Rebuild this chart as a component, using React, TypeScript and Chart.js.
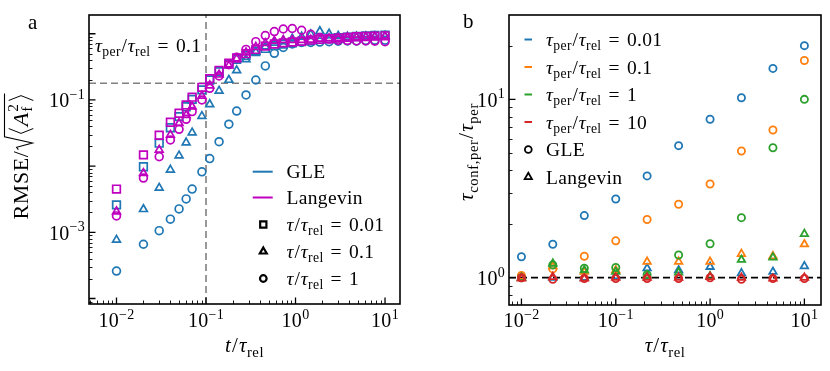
import React, { useEffect, useRef } from "react";
import { Chart, registerables } from "chart.js";
Chart.register(...registerables);

// ---------------- Panel a data ----------------
const tA = [0.01, 0.02, 0.03, 0.04, 0.05, 0.06, 0.07, 0.09, 0.11, 0.14, 0.18, 0.22, 0.28, 0.36, 0.46, 0.58, 0.73, 0.92, 1.17, 1.48, 1.87, 2.37, 3.0, 3.8, 4.8, 6.1, 7.7, 10.0];
const gleTau001 = [2.6e-3, 9.8e-3, 0.0222, 0.038, 0.056, 0.079, 0.102, 0.142, 0.2, 0.267, 0.35, 0.41, 0.47, 0.54, 0.6, 0.66, 0.7, 0.73, 0.76, 0.79, 0.82, 0.85, 0.87, 0.89, 0.91, 0.93, 0.94, 0.95];
const gleTau01 = [7.7e-4, 2.23e-3, 4.7e-3, 8.8e-3, 0.0144, 0.0227, 0.032, 0.057, 0.086, 0.137, 0.2, 0.28, 0.41, 0.53, 0.64, 0.73, 0.79, 0.84, 0.9, 0.98, 1.09, 1.0, 0.93, 0.9, 0.9, 0.91, 0.92, 0.93];
const gleTau1 = [2.6e-4, 6.6e-4, 1.06e-3, 1.58e-3, 2.26e-3, 3.2e-3, 4.5e-3, 8.2e-3, 0.013, 0.0234, 0.043, 0.068, 0.119, 0.2, 0.327, 0.507, 0.62, 0.7, 0.74, 0.74, 0.75, 0.76, 0.77, 0.78, 0.78, 0.79, 0.8, 0.8];
const lanTau001 = [4.5e-3, 0.0148, 0.0293, 0.046, 0.063, 0.084, 0.11, 0.155, 0.21, 0.28, 0.36, 0.43, 0.5, 0.58, 0.65, 0.7, 0.73, 0.75, 0.77, 0.8, 0.82, 0.84, 0.86, 0.88, 0.9, 0.91, 0.92, 0.93];
const lanTau01 = [2.06e-3, 7.8e-3, 0.0176, 0.0296, 0.0445, 0.059, 0.079, 0.115, 0.165, 0.24, 0.33, 0.42, 0.52, 0.63, 0.72, 0.78, 0.8, 0.8, 0.8, 0.81, 0.83, 0.85, 0.86, 0.87, 0.88, 0.89, 0.9, 0.91];
const lanTau1 = [1.77e-3, 6.6e-3, 0.0139, 0.0249, 0.036, 0.051, 0.0666, 0.1, 0.15, 0.23, 0.34, 0.44, 0.58, 0.76, 0.94, 1.08, 1.18, 1.2, 1.13, 0.98, 0.88, 0.83, 0.8, 0.79, 0.78, 0.78, 0.77, 0.76];
const tauRatiosA = ["0.01", "0.1", "1"];
const refTimeA = 0.1;
const refRmseA = 0.179;
const xTickExpA = [-2, -1, 0, 1];
const yTickExpA = [-1, -3];

// ---------------- Panel b data ----------------
const tauB = [0.01, 0.0215, 0.0464, 0.1, 0.215, 0.464, 1, 2.15, 4.64, 10];
const tauPerLabels = ["0.01", "0.1", "1", "10"];
const gleB001 = [1.31, 1.54, 2.23, 2.76, 3.72, 5.5, 7.73, 10.2, 14.9, 20.0];
const gleB01 = [1.03, 1.12, 1.32, 1.61, 2.12, 2.58, 3.35, 5.13, 6.73, 16.5];
const gleB1 = [1.0, 1.18, 1.13, 1.14, 1.04, 1.34, 1.55, 2.17, 5.35, 10.0];
const gleB10 = [1.0, 0.98, 0.99, 0.99, 0.99, 0.99, 1.0, 0.98, 0.99, 0.99];
const lanB001 = [1.0, 1.0, 1.0, 1.02, 1.13, 1.1, 1.15, 1.06, 1.08, 1.16];
const lanB01 = [1.0, 1.16, 1.08, 1.1, 1.23, 1.23, 1.23, 1.36, 1.32, 1.54];
const lanB1 = [1.0, 1.2, 1.1, 1.08, 1.03, 1.07, 1.02, 1.26, 1.3, 1.76];
const lanB10 = [0.99, 1.01, 0.99, 1.0, 1.0, 1.0, 1.01, 1.0, 0.99, 1.0];
const refRatioB = 1;
const xTickExpB = [-2, -1, 0, 1];
const yTickExpB = [0, 1];

// ---------------- styling ----------------
const BLUE = "#1f77b4";
const ORANGE = "#ff7f0e";
const GREEN = "#2ca02c";
const RED = "#d62728";
const MAG = "#bf00bf";
const FAMILY = '"Liberation Serif", "DejaVu Serif", serif';
const FS_TICK = 20;
const FS_LAB = 21;
const FS_LEG = 19.5;
const LS = 0.35;

const LIM_A = { xMin: 0.00493, xMax: 14.7, yMin: 8.26e-5, yMax: 1.92 };
const LIM_B = { xMin: 0.00738, xMax: 15.0, yMin: 0.703, yMax: 29.7 };

type Seg = { t: string; it?: boolean; sub?: boolean; sup?: boolean; pl?: number; pr?: number };

function segFont(s: Seg, base: number) {
  const size = s.sub || s.sup ? base * 0.7 : base;
  return `${s.it ? "italic " : ""}${size}px ${FAMILY}`;
}
function setLS(ctx: CanvasRenderingContext2D, v: number) {
  try {
    (ctx as any).letterSpacing = v + "px";
  } catch (e) {}
}
function segW(ctx: CanvasRenderingContext2D, s: Seg, base: number) {
  ctx.font = segFont(s, base);
  return ctx.measureText(s.t).width + ((s.pl || 0) + (s.pr || 0)) * base;
}
function richWidth(ctx: CanvasRenderingContext2D, segs: Seg[], base: number) {
  let w = 0;
  for (const s of segs) w += segW(ctx, s, base);
  return w;
}
function drawRich(ctx: CanvasRenderingContext2D, segs: Seg[], x: number, y: number, base: number, align: "left" | "center" | "right" = "left", ls = LS) {
  setLS(ctx, ls);
  const w = richWidth(ctx, segs, base);
  let cx = align === "center" ? x - w / 2 : align === "right" ? x - w : x;
  ctx.textAlign = "left";
  ctx.textBaseline = "alphabetic";
  ctx.fillStyle = "#000";
  for (const s of segs) {
    ctx.font = segFont(s, base);
    const dy = s.sub ? base * 0.22 : s.sup ? -base * 0.42 : 0;
    cx += (s.pl || 0) * base;
    ctx.fillText(s.t, cx, y + dy);
    cx += ctx.measureText(s.t).width + (s.pr || 0) * base;
  }
  setLS(ctx, 0);
}
const pow10Segs = (e: number): Seg[] => [{ t: "10" }, { t: e < 0 ? "\u2212" + -e : String(e), sup: true }];
const ratioSegs = (num: string, den: string, val: string, numSym = "\u03c4"): Seg[] => [
  { t: numSym, it: true },
  ...(num ? [{ t: num, sub: true }] : []),
  { t: "/", pl: 0.03, pr: 0.03 },
  { t: "\u03c4", it: true },
  { t: den, sub: true },
  ...(val ? [{ t: "=", pl: 0.36, pr: 0.36 }, { t: val }] : []),
];

function drawSqrtLabel(ctx: CanvasRenderingContext2D, cx: number, cy: number, b: number) {
  ctx.save();
  ctx.translate(cx, cy);
  ctx.rotate(-Math.PI / 2);
  setLS(ctx, 0.6);
  const f = (it: boolean, s: number) => `${it ? "italic " : ""}${s}px ${FAMILY}`;
  ctx.font = f(false, b);
  const wR = ctx.measureText("RMSE/").width;
  ctx.font = f(true, b);
  const wA = ctx.measureText("A").width;
  ctx.font = f(false, 0.7 * b);
  const wS = Math.max(ctx.measureText("2").width, ctx.measureText("f").width);
  const radW = 0.7 * b;
  const brW = 0.4 * b;
  const total = wR + radW + brW + wA + wS + 0.08 * b + brW;
  let x = -total / 2;
  const by = 0.3 * b;
  ctx.fillStyle = "#000";
  ctx.strokeStyle = "#000";
  ctx.textAlign = "left";
  ctx.textBaseline = "alphabetic";
  ctx.font = f(false, b);
  ctx.fillText("RMSE/", x, by);
  x += wR;
  const xEnd = x + radW + brW + wA + wS + 0.08 * b + brW;
  ctx.lineWidth = 1.1;
  ctx.beginPath();
  ctx.moveTo(x + 0.04 * b, by - 0.42 * b);
  ctx.lineTo(x + 0.15 * b, by - 0.5 * b);
  ctx.lineTo(x + 0.34 * b, by + 0.22 * b);
  ctx.lineTo(x + 0.62 * b, by - 1.05 * b);
  ctx.lineTo(xEnd, by - 1.05 * b);
  ctx.stroke();
  x += radW;
  ctx.lineWidth = 1;
  ctx.beginPath();
  ctx.moveTo(x + 0.3 * b, by - 0.86 * b);
  ctx.lineTo(x + 0.08 * b, by - 0.3 * b);
  ctx.lineTo(x + 0.3 * b, by + 0.26 * b);
  ctx.stroke();
  x += brW;
  ctx.font = f(true, b);
  ctx.fillText("A", x, by);
  x += wA;
  ctx.font = f(false, 0.7 * b);
  ctx.fillText("2", x + 0.03 * b, by - 0.45 * b);
  ctx.fillText("f", x + 0.03 * b, by + 0.2 * b);
  x += wS + 0.08 * b;
  ctx.beginPath();
  ctx.moveTo(x + 0.08 * b, by - 0.86 * b);
  ctx.lineTo(x + 0.3 * b, by - 0.3 * b);
  ctx.lineTo(x + 0.08 * b, by + 0.26 * b);
  ctx.stroke();
  setLS(ctx, 0);
  ctx.restore();
}

function logTicks(min: number, max: number) {
  const majors: { v: number; e: number }[] = [];
  const minors: number[] = [];
  for (let e = Math.floor(Math.log10(min)); e <= Math.ceil(Math.log10(max)); e++) {
    for (let k = 1; k <= 9; k++) {
      const v = k * Math.pow(10, e);
      if (v < min * 0.9999 || v > max * 1.0001) continue;
      if (k === 1) majors.push({ v, e });
      else minors.push(v);
    }
  }
  return { majors, minors };
}

function drawMarker(ctx: CanvasRenderingContext2D, style: string, x: number, y: number, r: number) {
  ctx.beginPath();
  if (style === "rect") {
    const s = r * Math.SQRT1_2;
    ctx.rect(x - s, y - s, 2 * s, 2 * s);
  } else if (style === "triangle") {
    for (let i = 0; i < 3; i++) {
      const a = (i * 2 * Math.PI) / 3;
      const px = x + Math.sin(a) * r;
      const py = y - Math.cos(a) * r;
      if (i === 0) ctx.moveTo(px, py);
      else ctx.lineTo(px, py);
    }
    ctx.closePath();
  } else {
    ctx.arc(x, y, r, 0, Math.PI * 2);
  }
  ctx.stroke();
}

function axesPlugin(opts: {
  id: string;
  xExp: number[];
  yExp: number[];
  extra: (ctx: CanvasRenderingContext2D, chart: any) => void;
}) {
  return {
    id: opts.id,
    afterDraw(chart: any) {
      const ctx: CanvasRenderingContext2D = chart.ctx;
      const { left, right, top, bottom } = chart.chartArea;
      const xs = chart.scales.x;
      const ys = chart.scales.y;
      ctx.save();
      ctx.strokeStyle = "#000";
      const xt = logTicks(xs.min, xs.max);
      const yt = logTicks(ys.min, ys.max);
      ctx.lineWidth = 0.9;
      ctx.beginPath();
      for (const v of xt.minors) {
        const p = Math.round(xs.getPixelForValue(v)) + 0.5;
        ctx.moveTo(p, bottom);
        ctx.lineTo(p, bottom - 3.5);
      }
      for (const v of yt.minors) {
        const p = Math.round(ys.getPixelForValue(v)) + 0.5;
        ctx.moveTo(left, p);
        ctx.lineTo(left + 3.5, p);
      }
      ctx.stroke();
      ctx.lineWidth = 1.3;
      ctx.beginPath();
      for (const t of xt.majors) {
        const p = xs.getPixelForValue(t.v);
        ctx.moveTo(p, bottom);
        ctx.lineTo(p, bottom - 6.5);
      }
      for (const t of yt.majors) {
        const p = ys.getPixelForValue(t.v);
        ctx.moveTo(left, p);
        ctx.lineTo(left + 6.5, p);
      }
      ctx.stroke();
      ctx.lineWidth = 1.6;
      ctx.strokeRect(left, top, right - left, bottom - top);
      for (const e of opts.xExp) {
        const p = xs.getPixelForValue(Math.pow(10, e));
        drawRich(ctx, pow10Segs(e), p, 327, FS_TICK, "center", 0.3);
      }
      for (const e of opts.yExp) {
        const p = ys.getPixelForValue(Math.pow(10, e));
        drawRich(ctx, pow10Segs(e), left - 4, p + 7.5, FS_TICK, "right", 0.3);
      }
      opts.extra(ctx, chart);
      ctx.restore();
    },
  };
}

function scatterSet(label: string, xs: number[], ys: number[], color: string, style: string, r: number, order: number, bw = 1.7) {
  return {
    label,
    data: xs.map((x, i) => ({ x, y: ys[i] })),
    showLine: false,
    pointStyle: style,
    pointRadius: r,
    pointHoverRadius: r,
    borderColor: color,
    backgroundColor: "rgba(0,0,0,0)",
    pointBorderWidth: bw,
    borderWidth: bw,
    order,
  };
}

function refLine(pts: { x: number; y: number }[], color: string, dash: number[], w: number) {
  return {
    label: "ref",
    data: pts,
    showLine: true,
    pointRadius: 0,
    borderColor: color,
    borderWidth: w,
    borderDash: dash,
    backgroundColor: "rgba(0,0,0,0)",
    order: 50,
  };
}

function scalesFor(lim: { xMin: number; xMax: number; yMin: number; yMax: number }) {
  return {
    x: { type: "logarithmic", min: lim.xMin, max: lim.xMax, bounds: "data", display: false },
    y: { type: "logarithmic", min: lim.yMin, max: lim.yMax, bounds: "data", display: false },
  };
}

function PanelA() {
  const ref = useRef<HTMLCanvasElement>(null);
  useEffect(() => {
    const datasets: any[] = [
      scatterSet("Langevin 0.01", tA, lanTau001, MAG, "rect", 5.4, 1),
      scatterSet("Langevin 0.1", tA, lanTau01, MAG, "triangle", 4.5, 1),
      scatterSet("Langevin 1", tA, lanTau1, MAG, "circle", 3.9, 1),
      scatterSet("GLE 0.01", tA, gleTau001, BLUE, "rect", 5.4, 2),
      scatterSet("GLE 0.1", tA, gleTau01, BLUE, "triangle", 4.5, 2),
      scatterSet("GLE 1", tA, gleTau1, BLUE, "circle", 3.9, 2),
      refLine([{ x: refTimeA, y: LIM_A.yMin }, { x: refTimeA, y: LIM_A.yMax }], "#808080", [7, 4], 1.6),
      refLine([{ x: LIM_A.xMin, y: refRmseA }, { x: LIM_A.xMax, y: refRmseA }], "#808080", [7, 4], 1.6),
    ];
    const plugin = axesPlugin({
      id: "axesA",
      xExp: xTickExpA,
      yExp: yTickExpA,
      extra: (ctx, chart) => {
        const { left, right, top, bottom } = chart.chartArea;
        drawRich(ctx, ratioSegs("", "rel", "", "t"), (left + right) / 2, 352, FS_LAB, "center", 0.5);
        drawSqrtLabel(ctx, 21, (top + bottom) / 2 - 3, FS_LAB + 1);
        drawRich(ctx, [{ t: "a" }], 28, 29, FS_LAB, "left", 0);
        drawRich(ctx, ratioSegs("per", "rel", "0.1"), 95, 52, FS_LEG, "left");
        const rows = [171.7, 197.5, 224.5, 251.5, 278.5];
        ctx.lineWidth = 2;
        const lineItems = [
          { c: BLUE, t: "GLE" },
          { c: MAG, t: "Langevin" },
        ];
        lineItems.forEach((it, i) => {
          ctx.strokeStyle = it.c;
          ctx.beginPath();
          ctx.moveTo(252.7, rows[i]);
          ctx.lineTo(272.7, rows[i]);
          ctx.stroke();
          drawRich(ctx, [{ t: it.t }], 286.5, rows[i] + 6.6, FS_LEG, "left");
        });
        const markerItems = ["rect", "triangle", "circle"];
        markerItems.forEach((m, i) => {
          ctx.strokeStyle = "#000";
          ctx.lineWidth = 2.2;
          drawMarker(ctx, m, 263.3, rows[i + 2], m === "rect" ? 4.4 : m === "triangle" ? 4 : 3.3);
          drawRich(ctx, ratioSegs("", "rel", tauRatiosA[i]), 286.5, rows[i + 2] + 6.6, FS_LEG, "left");
        });
      },
    });
    const chart = new Chart(ref.current as HTMLCanvasElement, {
      type: "scatter",
      data: { datasets },
      options: {
        responsive: false,
        animation: false,
        events: [],
        layout: { padding: { left: 89, right: 15, top: 15, bottom: 67 } },
        plugins: { legend: { display: false }, tooltip: { enabled: false } },
        scales: scalesFor(LIM_A) as any,
      },
      plugins: [plugin],
    } as any);
    return () => chart.destroy();
  }, []);
  return <canvas ref={ref} width={415} height={371} style={{ position: "absolute", left: 0, top: 0 }} />;
}

function PanelB() {
  const ref = useRef<HTMLCanvasElement>(null);
  useEffect(() => {
    const colors = [BLUE, ORANGE, GREEN, RED];
    const gle = [gleB001, gleB01, gleB1, gleB10];
    const lan = [lanB001, lanB01, lanB1, lanB10];
    const datasets: any[] = [];
    for (let i = 3; i >= 0; i--) {
      datasets.push(scatterSet("GLE " + tauPerLabels[i], tauB, gle[i], colors[i], "circle", 3.6, 4 - i, 1.8));
      datasets.push(scatterSet("Langevin " + tauPerLabels[i], tauB, lan[i], colors[i], "triangle", 4.3, 4 - i, 1.8));
    }
    datasets.push(refLine([{ x: LIM_B.xMin, y: refRatioB }, { x: LIM_B.xMax, y: refRatioB }], "#000", [7, 4], 1.7));
    const plugin = axesPlugin({
      id: "axesB",
      xExp: xTickExpB,
      yExp: yTickExpB,
      extra: (ctx, chart) => {
        const { left, right, top, bottom } = chart.chartArea;
        drawRich(ctx, ratioSegs("", "rel", ""), (left + right) / 2, 352, FS_LAB, "center", 0.5);
        ctx.save();
        ctx.translate(52, (top + bottom) / 2 - 8);
        ctx.rotate(-Math.PI / 2);
        drawRich(ctx, ratioSegs("conf,per", "per", ""), 0, 6, FS_LAB, "center", 0.6);
        ctx.restore();
        drawRich(ctx, [{ t: "b" }], 48, 28, FS_LAB, "left", 0);
        const rows = [39.5, 67, 94.5, 122, 149.5, 177];
        colors.forEach((c, i) => {
          ctx.strokeStyle = c;
          ctx.lineWidth = 2;
          ctx.beginPath();
          ctx.moveTo(109.5, rows[i]);
          ctx.lineTo(117, rows[i]);
          ctx.stroke();
          drawRich(ctx, ratioSegs("per", "rel", tauPerLabels[i]), 131, rows[i] + 6.6, FS_LEG, "left");
        });
        ctx.strokeStyle = "#000";
        ctx.lineWidth = 1.8;
        drawMarker(ctx, "circle", 113.3, rows[4], 3.4);
        drawRich(ctx, [{ t: "GLE" }], 131, rows[4] + 6.6, FS_LEG, "left");
        drawMarker(ctx, "triangle", 113.3, rows[5], 4.2);
        drawRich(ctx, [{ t: "Langevin" }], 131, rows[5] + 6.6, FS_LEG, "left");
      },
    });
    const chart = new Chart(ref.current as HTMLCanvasElement, {
      type: "scatter",
      data: { datasets },
      options: {
        responsive: false,
        animation: false,
        events: [],
        layout: { padding: { left: 94, right: 9, top: 15, bottom: 66 } },
        plugins: { legend: { display: false }, tooltip: { enabled: false } },
        scales: scalesFor(LIM_B) as any,
      },
      plugins: [plugin],
    } as any);
    return () => chart.destroy();
  }, []);
  return <canvas ref={ref} width={415} height={371} style={{ position: "absolute", left: 415, top: 0 }} />;
}

export default function App() {
  return (
    <div style={{ position: "absolute", left: 0, top: 0, width: 830, height: 371, background: "#fff", overflow: "hidden" }}>
      <PanelA />
      <PanelB />
    </div>
  );
}
